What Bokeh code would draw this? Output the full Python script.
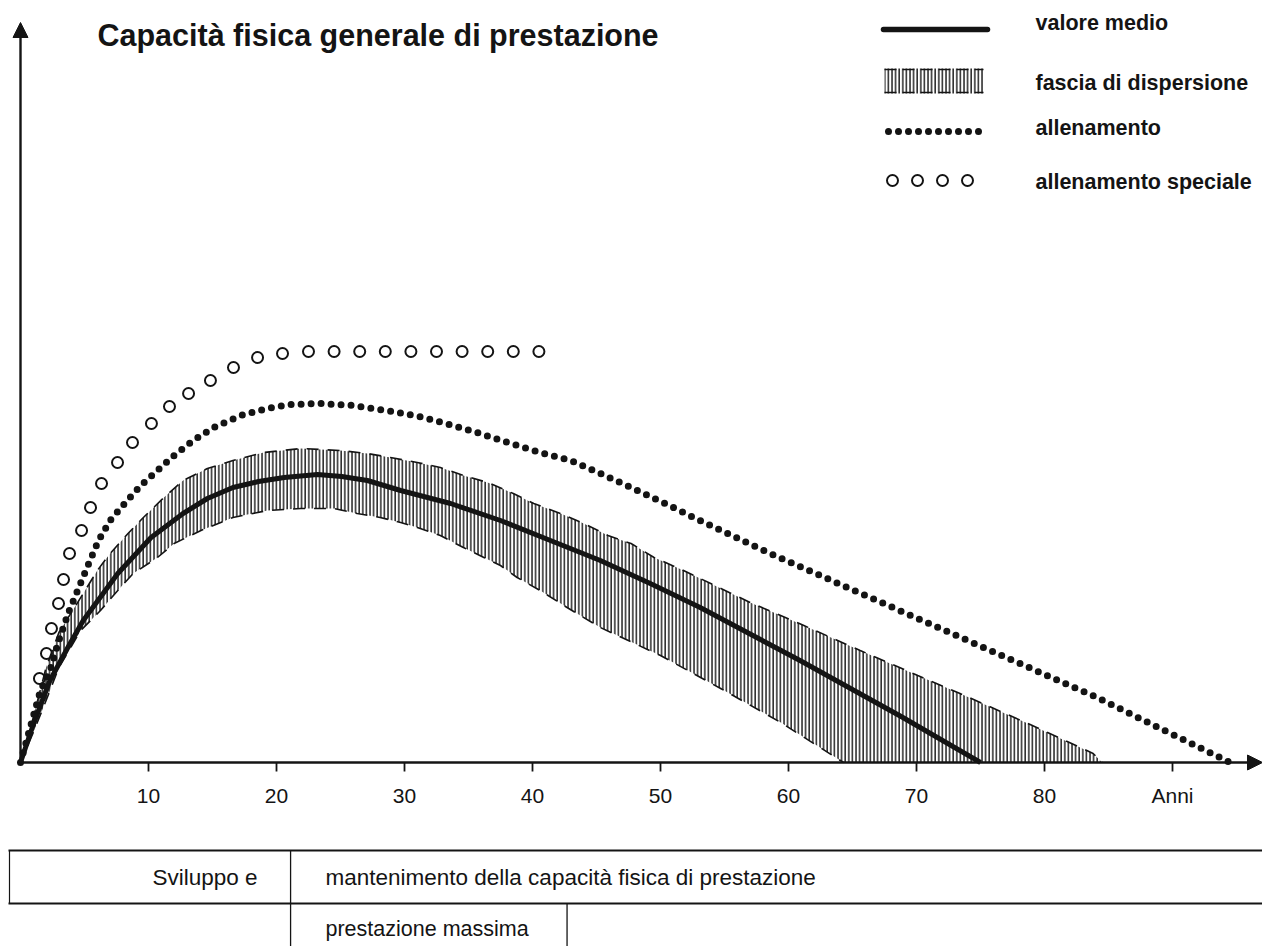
from bokeh.plotting import figure
from bokeh.models import Arrow, NormalHead
from bokeh.core.properties import value
from bokeh.embed import file_html
from bokeh.resources import INLINE

# ---------------- data (age in years, level in arbitrary units) ----------------
mean_age = [0, 1.0, 2.3, 3.7, 4.9, 7.6, 10.2, 12.7, 14.6, 16.6, 18.6, 20.6, 23.2, 25.1,
            27.1, 29.7, 33.6, 37.5, 41.4, 45.3, 49.2, 53.1, 60.9, 68.8, 75.0]
mean_level = [0, 38, 82, 115, 142, 189, 225, 249, 264, 275, 281, 285, 288, 286,
              282, 272, 259, 242, 222, 202, 179, 155, 102, 46, 0]

upper_age = [0, 1.0, 2.0, 3.0, 4.9, 6.0, 7.0, 8.4, 9.6, 11.2, 12.7, 14.6, 16.6, 19.0,
             21.9, 25.0, 27.1, 28.9, 31.0, 32.8, 34.6, 36.5, 38.5, 40.1, 42.2, 44.0,
             45.9, 47.7, 49.5, 51.8, 53.1, 57.0, 61.2, 65.6, 70.1, 73.4, 78.7, 83.8, 84.5]
upper_level = [0, 45, 95, 130, 169, 192, 209, 229, 245, 265, 282, 294, 302, 310,
               314, 312, 309, 305, 300, 295, 287, 280, 269, 259, 249, 239,
               227, 219, 205, 192, 184, 160, 137, 112, 87, 69, 39, 9, 0]

lower_age = [0, 1.0, 2.0, 3.0, 4.7, 6.25, 7.6, 8.8, 10.7, 12.0, 14.1, 16.6, 19.3,
             21.9, 24.5, 26.3, 28.1, 29.7, 31.0, 32.8, 34.6, 36.2, 37.5, 38.8, 40.6,
             42.7, 45.3, 50.0, 54.7, 59.4, 64.3]
lower_level = [0, 30, 62, 95, 132, 152, 172, 189, 205, 219, 232, 245, 252,
               254, 254, 249, 245, 240, 235, 227, 215, 205, 197, 185, 172,
               155, 135, 107, 74, 40, 0]

train_age = [0, 1.56, 2.3, 3.0, 3.75, 5.2, 6.1, 7.0, 8.2, 9.4, 10.7, 12.0, 13.5, 15.1,
             17.2, 19.3, 21.1, 23.4, 26.0, 29.1, 31.5, 33.8, 35.9, 38.3, 40.6, 43.0,
             45.3, 47.7, 50.2, 52.6, 58.4, 84.1, 94.5]
train_level = [0, 72, 92, 122, 150, 195, 222, 242, 260, 277, 292, 307, 322, 335,
               347, 354, 358, 359, 357, 351, 345, 337, 329, 319, 310, 302,
               289, 275, 260, 245, 210, 65, 0]

special_age = [1.48, 2.03, 2.42, 2.97, 3.36, 3.83, 4.77, 5.47, 6.33, 7.58, 8.75, 10.23,
               11.64, 13.13, 14.84, 16.64, 18.52, 20.47, 22.5, 24.5, 26.5, 28.5, 30.5,
               32.5, 34.5, 36.5, 38.5, 40.5]
special_level = [84, 109, 134, 159, 183, 209, 232, 255, 279, 300, 320, 339,
                 356, 369, 382, 395, 405, 409, 411, 411, 411, 411, 411,
                 411, 411, 411, 411, 411]

x_ticks = [10, 20, 30, 40, 50, 60, 70, 80, 90]
x_tick_labels = ["10", "20", "30", "40", "50", "60", "70", "80", "Anni"]

phase_bounds = [21.1, 42.7]  # end of development / end of peak performance (years)

title_text = "Capacità fisica generale di prestazione"
legend_labels = ["valore medio", "fascia di dispersione", "allenamento", "allenamento speciale"]
table_row1 = ["Sviluppo e", "mantenimento della capacità fisica di prestazione"]
table_row2 = ["prestazione massima"]

# ---------------- layout helpers (page pixel -> data) ----------------
W, H = 1262, 946
PX0, PY0, SX = 20.0, 762.0, 12.8


def X(px):
    return (px - PX0) / SX


def Y(py):
    return PY0 - py


INK = "#141414"
FONT = value("Liberation Sans")

p = figure(width=W, height=H, x_range=(X(0), X(W)), y_range=(Y(H), Y(0)),
           toolbar_location=None, output_backend="svg", min_border=0,
           x_axis_location=None, y_axis_location=None, outline_line_color=None)
p.grid.visible = False
p.background_fill_color = "white"

# ---------------- band (fascia di dispersione) ----------------
band_x = upper_age + lower_age[::-1]
band_y = upper_level + lower_level[::-1]
p.patch(band_x, band_y, fill_alpha=0, line_color=None,
        hatch_pattern="|", hatch_scale=3.6, hatch_weight=1.4, hatch_color=INK)
p.line(upper_age, upper_level, line_color=INK, line_width=1.6, line_dash="12 9")
p.line(lower_age, lower_level, line_color=INK, line_width=1.6, line_dash="12 9")

# ---------------- mean ----------------
p.line(mean_age, mean_level, line_color=INK, line_width=5, line_join="round")

# ---------------- training (dotted) ----------------
p.line(train_age, train_level, line_color=INK, line_width=7, line_dash="0 10",
       line_cap="round", line_join="round")

# ---------------- special training (open circles) ----------------
p.scatter(special_age, special_level, marker="circle", size=11, fill_color=None,
          line_color=INK, line_width=2)

# ---------------- axes ----------------
p.add_layout(Arrow(end=NormalHead(size=15, fill_color=INK, line_color=INK),
                   x_start=0, y_start=0, x_end=X(1262), y_end=0,
                   line_color=INK, line_width=2.4))
p.add_layout(Arrow(end=NormalHead(size=15, fill_color=INK, line_color=INK),
                   x_start=0, y_start=0, x_end=0, y_end=Y(22),
                   line_color=INK, line_width=2.4))
p.segment(x0=x_ticks, y0=[0] * len(x_ticks), x1=x_ticks, y1=[-9] * len(x_ticks),
          line_color=INK, line_width=1.8)
p.text(x=x_ticks, y=[Y(795)] * len(x_ticks), text=x_tick_labels,
       text_font=FONT, text_font_size="21px", text_color=INK,
       text_align="center", text_baseline="middle")

# ---------------- title ----------------
p.text(x=[X(97)], y=[Y(34)], text=[title_text], text_font=FONT,
       text_font_size="30.5px", text_font_style="bold", text_color=INK,
       text_align="left", text_baseline="middle")

# ---------------- legend (drawn manually) ----------------
p.line([X(883), X(987)], [Y(29), Y(29)], line_color=INK, line_width=5.5, line_cap="round")
p.quad(left=[X(884)], right=[X(983)], top=[Y(68)], bottom=[Y(93)],
       fill_alpha=0, line_color=None, hatch_pattern="|", hatch_scale=3.6,
       hatch_weight=1.4, hatch_color=INK)
p.line([X(884), X(983)], [Y(69), Y(69)], line_color=INK, line_width=1.6, line_dash="12 6")
p.line([X(884), X(983)], [Y(92), Y(92)], line_color=INK, line_width=1.6, line_dash="12 6")
p.line([X(888), X(986)], [Y(131), Y(131)], line_color=INK, line_width=7,
       line_dash="0 10", line_cap="round")
p.scatter([X(892), X(917), X(942), X(967)], [Y(180)] * 4, marker="circle", size=11,
          fill_color=None, line_color=INK, line_width=2)
p.text(x=[X(1035)] * 4, y=[Y(22), Y(82), Y(127), Y(181)], text=legend_labels,
       text_font=FONT, text_font_size="21.5px", text_font_style="bold", text_color=INK,
       text_align="left", text_baseline="middle")

# ---------------- phase table ----------------
xl, xr = X(8), X(1262)
p.segment(x0=[xl, xl], y0=[Y(850), Y(903)], x1=[xr, xr], y1=[Y(850), Y(903)],
          line_color=INK, line_width=2)
p.segment(x0=[X(9)], y0=[Y(850)], x1=[X(9)], y1=[Y(903)], line_color=INK, line_width=1.2)
p.segment(x0=[phase_bounds[0]], y0=[Y(850)], x1=[phase_bounds[0]], y1=[Y(H)],
          line_color=INK, line_width=1.3)
p.segment(x0=[phase_bounds[1]], y0=[Y(903)], x1=[phase_bounds[1]], y1=[Y(H)],
          line_color=INK, line_width=1.3)
p.text(x=[X(257)], y=[Y(877)], text=[table_row1[0]], text_font=FONT,
       text_font_size="22.5px", text_color=INK, text_align="right", text_baseline="middle")
p.text(x=[X(325)], y=[Y(877)], text=[table_row1[1]], text_font=FONT,
       text_font_size="22.5px", text_color=INK, text_align="left", text_baseline="middle")
p.text(x=[X(325)], y=[Y(928)], text=table_row2, text_font=FONT,
       text_font_size="21.5px", text_color=INK, text_align="left", text_baseline="middle")

open("out.html", "w").write(file_html(p, INLINE))
